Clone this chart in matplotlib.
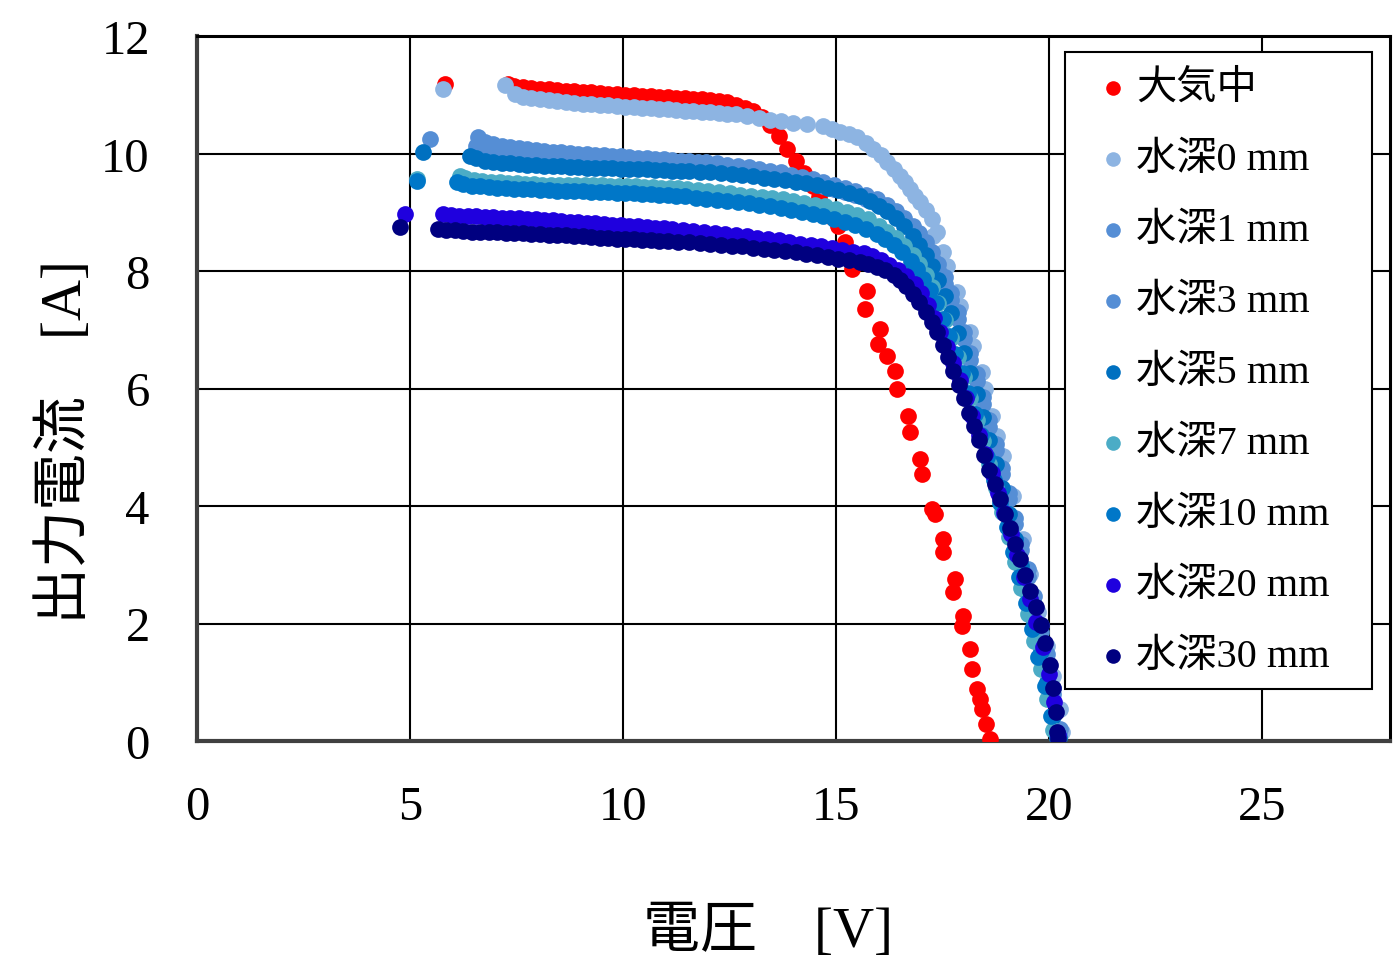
import matplotlib
matplotlib.use("Agg")
import matplotlib.pyplot as plt
from matplotlib.patches import Rectangle
from matplotlib.lines import Line2D

# ---------------- data (voltage [V], current [A]) ----------------
air = [(5.82, 11.18), (7.30, 11.18), (7.45, 11.15), (7.65, 11.13), (7.85, 11.12), (8.05, 11.10),
       (8.25, 11.09), (8.45, 11.08), (8.65, 11.07), (8.85, 11.06), (9.05, 11.05), (9.25, 11.04),
       (9.45, 11.03), (9.65, 11.02), (9.85, 11.01), (10.05, 11.00), (10.25, 10.99), (10.45, 10.98),
       (10.65, 10.98), (10.85, 10.97), (11.05, 10.96), (11.25, 10.95), (11.45, 10.94), (11.65, 10.93),
       (11.85, 10.92), (12.05, 10.91), (12.25, 10.90), (12.45, 10.87), (12.65, 10.83), (12.85, 10.78),
       (13.05, 10.72), (13.25, 10.62), (13.45, 10.48), (13.65, 10.30), (13.85, 10.08), (14.05, 9.87),
       (14.25, 9.66), (14.45, 9.45), (14.60, 9.26), (14.75, 9.08), (14.90, 8.92), (15.05, 8.76),
       (15.20, 8.50), (15.38, 8.03), (15.73, 7.66), (15.68, 7.35), (16.03, 7.01), (15.99, 6.76),
       (16.20, 6.55), (16.38, 6.30), (16.43, 5.99), (16.69, 5.53), (16.74, 5.26), (16.97, 4.80),
       (17.02, 4.54), (17.25, 3.95), (17.32, 3.86), (17.51, 3.44), (17.51, 3.22), (17.79, 2.76),
       (17.75, 2.54), (17.98, 2.13), (17.96, 1.96), (18.15, 1.57), (18.19, 1.23), (18.31, 0.89),
       (18.38, 0.71), (18.43, 0.54), (18.52, 0.29), (18.61, 0.03)]

depth0 = [(5.77, 11.10), (7.23, 11.17), (7.46, 11.01), (7.65, 10.97), (7.85, 10.95), (8.05, 10.93),
          (8.25, 10.91), (8.45, 10.90), (8.65, 10.88), (8.85, 10.86), (9.05, 10.85), (9.25, 10.84),
          (9.45, 10.83), (9.65, 10.82), (9.85, 10.81), (10.05, 10.80), (10.25, 10.79), (10.45, 10.78),
          (10.65, 10.77), (10.85, 10.76), (11.05, 10.75), (11.25, 10.74), (11.45, 10.73), (11.65, 10.72),
          (11.85, 10.71), (12.05, 10.70), (12.25, 10.69), (12.45, 10.68), (12.65, 10.67), (12.90, 10.64),
          (13.20, 10.60), (13.45, 10.57), (13.70, 10.55), (14.00, 10.52), (14.32, 10.50), (14.69, 10.47),
          (14.90, 10.42), (15.09, 10.37), (15.30, 10.33), (15.49, 10.28), (15.70, 10.18), (15.87, 10.08),
          (16.05, 9.97), (16.20, 9.86), (16.35, 9.74), (16.50, 9.62), (16.62, 9.51), (16.74, 9.40),
          (16.86, 9.28), (16.97, 9.17), (17.10, 9.03), (17.25, 8.89), (17.37, 8.66), (17.28, 8.60),
          (17.51, 8.32), (17.61, 8.09), (17.84, 7.64), (17.91, 7.40), (18.15, 6.96), (18.22, 6.72),
          (18.43, 6.28), (18.50, 5.99), (18.66, 5.53), (18.78, 5.19), (18.92, 4.85), (19.15, 4.17),
          (19.39, 3.44), (19.55, 2.84), (19.74, 2.20), (19.95, 1.62), (20.09, 1.11), (20.26, 0.54),
          (20.31, 0.15)]

depth1 = [(5.47, 10.25), (6.60, 10.28), (6.75, 10.20), (6.95, 10.16), (7.15, 10.13), (7.35, 10.11),
          (7.55, 10.09), (7.75, 10.07), (7.95, 10.06), (8.15, 10.04), (8.35, 10.03), (8.55, 10.02),
          (8.75, 10.01), (8.95, 10.00), (9.15, 9.99), (9.35, 9.98), (9.55, 9.97), (9.75, 9.96),
          (9.95, 9.95), (10.15, 9.94), (10.35, 9.93), (10.55, 9.92), (10.75, 9.91), (10.95, 9.90),
          (11.15, 9.89), (11.35, 9.88), (11.55, 9.87), (11.75, 9.86), (11.95, 9.85), (12.20, 9.83),
          (12.45, 9.81), (12.70, 9.79), (12.95, 9.77), (13.20, 9.74), (13.45, 9.71), (13.70, 9.68),
          (13.95, 9.64), (14.20, 9.60), (14.45, 9.56), (14.70, 9.52), (14.95, 9.47), (15.20, 9.42),
          (15.45, 9.36), (15.70, 9.30), (15.95, 9.22), (16.20, 9.12), (16.40, 9.02), (16.60, 8.90),
          (16.80, 8.77), (16.95, 8.65), (17.10, 8.50), (17.25, 8.33), (17.40, 8.12), (17.55, 7.90),
          (17.70, 7.62), (17.85, 7.30), (18.00, 6.96), (18.15, 6.60), (18.30, 6.24), (18.45, 5.86),
          (18.60, 5.46), (18.75, 5.06), (18.90, 4.64), (19.05, 4.22), (19.20, 3.80), (19.35, 3.36),
          (19.50, 2.92), (19.65, 2.46), (19.80, 1.98), (19.95, 1.48), (20.10, 0.90), (20.25, 0.20)]

depth3 = [(6.55, 10.12), (6.75, 10.08), (6.95, 10.05), (7.15, 10.03), (7.35, 10.01), (7.55, 9.99),
          (7.75, 9.98), (7.95, 9.97), (8.15, 9.96), (8.35, 9.95), (8.55, 9.94), (8.75, 9.93),
          (8.95, 9.92), (9.15, 9.91), (9.35, 9.90), (9.55, 9.89), (9.75, 9.88), (9.95, 9.87),
          (10.15, 9.86), (10.35, 9.85), (10.55, 9.84), (10.75, 9.83), (10.95, 9.82), (11.15, 9.81),
          (11.35, 9.80), (11.55, 9.79), (11.75, 9.78), (11.95, 9.77), (12.20, 9.75), (12.45, 9.73),
          (12.70, 9.71), (12.95, 9.69), (13.20, 9.66), (13.45, 9.63), (13.70, 9.60), (13.95, 9.57),
          (14.20, 9.53), (14.45, 9.49), (14.70, 9.45), (14.95, 9.40), (15.20, 9.35), (15.45, 9.29),
          (15.70, 9.22), (15.95, 9.14), (16.20, 9.04), (16.40, 8.94), (16.60, 8.82), (16.80, 8.68),
          (16.95, 8.55), (17.10, 8.40), (17.25, 8.22), (17.40, 8.02), (17.55, 7.78), (17.70, 7.50),
          (17.85, 7.18), (18.00, 6.84), (18.15, 6.48), (18.30, 6.12), (18.45, 5.74), (18.60, 5.35),
          (18.75, 4.95), (18.90, 4.54), (19.05, 4.12), (19.20, 3.69), (19.35, 3.25), (19.50, 2.80),
          (19.65, 2.34), (19.80, 1.86), (19.95, 1.36), (20.10, 0.80), (20.24, 0.12)]

depth5 = [(5.30, 10.02), (6.41, 9.96), (6.55, 9.92), (6.75, 9.88), (6.95, 9.86), (7.15, 9.84),
          (7.35, 9.83), (7.55, 9.82), (7.75, 9.81), (7.95, 9.80), (8.15, 9.79), (8.35, 9.78),
          (8.55, 9.78), (8.75, 9.77), (8.95, 9.77), (9.15, 9.76), (9.35, 9.76), (9.55, 9.75),
          (9.75, 9.75), (9.95, 9.74), (10.15, 9.74), (10.35, 9.73), (10.55, 9.73), (10.75, 9.72),
          (10.95, 9.72), (11.15, 9.71), (11.35, 9.71), (11.55, 9.70), (11.80, 9.69), (12.05, 9.68),
          (12.30, 9.66), (12.55, 9.65), (12.80, 9.63), (13.05, 9.61), (13.30, 9.59), (13.55, 9.57),
          (13.80, 9.55), (14.05, 9.52), (14.30, 9.49), (14.55, 9.46), (14.80, 9.42), (15.05, 9.38),
          (15.30, 9.33), (15.55, 9.27), (15.80, 9.19), (16.00, 9.11), (16.20, 9.02), (16.40, 8.91),
          (16.60, 8.77), (16.80, 8.60), (16.95, 8.45), (17.10, 8.28), (17.25, 8.08), (17.40, 7.85),
          (17.55, 7.58), (17.70, 7.28), (17.85, 6.95), (18.00, 6.61), (18.15, 6.26), (18.30, 5.90),
          (18.45, 5.52), (18.60, 5.13), (18.75, 4.72), (18.90, 4.30), (19.05, 3.87), (19.20, 3.43),
          (19.35, 2.98), (19.50, 2.51), (19.65, 2.03), (19.80, 1.53), (19.95, 1.00), (20.10, 0.42),
          (20.22, 0.05)]

depth7 = [(5.16, 9.57), (6.17, 9.62), (6.30, 9.58), (6.50, 9.55), (6.70, 9.53), (6.90, 9.52),
          (7.10, 9.51), (7.30, 9.50), (7.50, 9.49), (7.70, 9.48), (7.90, 9.48), (8.10, 9.47),
          (8.30, 9.47), (8.50, 9.46), (8.70, 9.46), (8.90, 9.46), (9.10, 9.46), (9.30, 9.46),
          (9.50, 9.46), (9.70, 9.45), (9.90, 9.45), (10.10, 9.44), (10.30, 9.44), (10.50, 9.43),
          (10.70, 9.43), (10.90, 9.42), (11.10, 9.42), (11.30, 9.41), (11.50, 9.40), (11.75, 9.38),
          (12.00, 9.36), (12.25, 9.34), (12.50, 9.32), (12.75, 9.30), (13.00, 9.28), (13.25, 9.26),
          (13.50, 9.24), (13.75, 9.22), (14.00, 9.19), (14.25, 9.16), (14.50, 9.13), (14.75, 9.10),
          (15.00, 9.06), (15.25, 9.01), (15.50, 8.95), (15.75, 8.88), (16.00, 8.77), (16.20, 8.67),
          (16.40, 8.56), (16.60, 8.42), (16.80, 8.27), (16.95, 8.12), (17.10, 7.94), (17.25, 7.72),
          (17.40, 7.46), (17.55, 7.17), (17.70, 6.86), (17.85, 6.53), (18.00, 6.19), (18.15, 5.84),
          (18.30, 5.47), (18.45, 5.10), (18.60, 4.71), (18.75, 4.31), (18.90, 3.90), (19.05, 3.48),
          (19.20, 3.05), (19.35, 2.61), (19.50, 2.16), (19.65, 1.70), (19.80, 1.22), (19.95, 0.72),
          (20.10, 0.18), (20.20, 0.04)]

depth10 = [(5.16, 9.53), (6.10, 9.51), (6.25, 9.48), (6.45, 9.45), (6.65, 9.44), (6.85, 9.43),
           (7.05, 9.42), (7.25, 9.41), (7.45, 9.40), (7.65, 9.39), (7.85, 9.39), (8.05, 9.38),
           (8.25, 9.38), (8.45, 9.37), (8.65, 9.37), (8.85, 9.36), (9.05, 9.36), (9.25, 9.35),
           (9.45, 9.35), (9.65, 9.34), (9.85, 9.33), (10.05, 9.33), (10.25, 9.32), (10.45, 9.31),
           (10.65, 9.31), (10.85, 9.30), (11.05, 9.29), (11.25, 9.28), (11.45, 9.27), (11.70, 9.25),
           (11.95, 9.23), (12.20, 9.21), (12.45, 9.19), (12.70, 9.17), (12.95, 9.15), (13.20, 9.12),
           (13.45, 9.10), (13.70, 9.07), (13.95, 9.04), (14.20, 9.01), (14.45, 8.97), (14.70, 8.93),
           (14.95, 8.89), (15.20, 8.84), (15.45, 8.79), (15.70, 8.72), (15.95, 8.63), (16.15, 8.55),
           (16.35, 8.45), (16.55, 8.32), (16.75, 8.17), (16.90, 8.03), (17.05, 7.87), (17.20, 7.68),
           (17.35, 7.45), (17.50, 7.19), (17.65, 6.90), (17.80, 6.59), (17.95, 6.26), (18.10, 5.92),
           (18.25, 5.57), (18.40, 5.21), (18.55, 4.84), (18.70, 4.45), (18.85, 4.05), (19.00, 3.64),
           (19.15, 3.22), (19.30, 2.79), (19.45, 2.35), (19.60, 1.90), (19.75, 1.43), (19.90, 0.94),
           (20.05, 0.42), (20.18, 0.05)]

depth20 = [(4.88, 8.97), (5.77, 8.97), (5.95, 8.95), (6.15, 8.94), (6.35, 8.93), (6.55, 8.93),
           (6.75, 8.92), (6.95, 8.92), (7.15, 8.91), (7.35, 8.90), (7.55, 8.90), (7.75, 8.89),
           (7.95, 8.88), (8.15, 8.87), (8.35, 8.86), (8.55, 8.85), (8.75, 8.84), (8.95, 8.83),
           (9.15, 8.82), (9.35, 8.81), (9.55, 8.80), (9.75, 8.79), (9.95, 8.78), (10.15, 8.77),
           (10.35, 8.76), (10.55, 8.75), (10.75, 8.74), (10.95, 8.73), (11.15, 8.72), (11.40, 8.70),
           (11.65, 8.68), (11.90, 8.67), (12.15, 8.65), (12.40, 8.63), (12.65, 8.61), (12.90, 8.59),
           (13.15, 8.57), (13.40, 8.55), (13.65, 8.52), (13.90, 8.49), (14.15, 8.46), (14.40, 8.44),
           (14.65, 8.42), (14.90, 8.39), (15.15, 8.36), (15.40, 8.33), (15.65, 8.30), (15.85, 8.25),
           (16.05, 8.18), (16.25, 8.10), (16.45, 8.02), (16.65, 7.92), (16.85, 7.78), (17.00, 7.62),
           (17.15, 7.42), (17.30, 7.20), (17.45, 6.96), (17.60, 6.70), (17.75, 6.43), (17.90, 6.14),
           (18.05, 5.84), (18.20, 5.53), (18.35, 5.21), (18.50, 4.89), (18.65, 4.56), (18.80, 4.22),
           (18.95, 3.88), (19.10, 3.53), (19.25, 3.17), (19.40, 2.80), (19.55, 2.42), (19.70, 2.02),
           (19.85, 1.60), (20.00, 1.14), (20.12, 0.66), (20.20, 0.10)]

depth30 = [(4.77, 8.75), (5.66, 8.72), (5.85, 8.70), (6.05, 8.69), (6.25, 8.68), (6.45, 8.67),
           (6.65, 8.67), (6.85, 8.66), (7.05, 8.66), (7.25, 8.65), (7.45, 8.65), (7.65, 8.64),
           (7.85, 8.63), (8.05, 8.63), (8.25, 8.62), (8.45, 8.61), (8.65, 8.61), (8.85, 8.60),
           (9.05, 8.59), (9.25, 8.58), (9.45, 8.57), (9.65, 8.56), (9.85, 8.55), (10.05, 8.54),
           (10.25, 8.54), (10.45, 8.53), (10.65, 8.52), (10.85, 8.51), (11.05, 8.51), (11.30, 8.50),
           (11.55, 8.49), (11.80, 8.48), (12.05, 8.46), (12.30, 8.45), (12.55, 8.43), (12.80, 8.42),
           (13.05, 8.40), (13.30, 8.38), (13.55, 8.36), (13.80, 8.34), (14.05, 8.32), (14.30, 8.29),
           (14.55, 8.27), (14.80, 8.24), (15.05, 8.21), (15.30, 8.18), (15.55, 8.15), (15.75, 8.12),
           (15.95, 8.07), (16.15, 8.01), (16.35, 7.93), (16.50, 7.85), (16.65, 7.74), (16.80, 7.61),
           (16.95, 7.47), (17.10, 7.31), (17.25, 7.13), (17.37, 6.96), (17.50, 6.74), (17.62, 6.53),
           (17.75, 6.30), (17.88, 6.06), (18.00, 5.83), (18.12, 5.59), (18.24, 5.36), (18.36, 5.12),
           (18.48, 4.87), (18.60, 4.62), (18.72, 4.37), (18.84, 4.12), (18.96, 3.87), (19.08, 3.62),
           (19.20, 3.36), (19.32, 3.10), (19.44, 2.83), (19.56, 2.56), (19.68, 2.28), (19.80, 1.98),
           (19.91, 1.66), (20.02, 1.30), (20.10, 0.90), (20.16, 0.50), (20.19, 0.15), (20.20, 0.03)]

series = [air, depth0, depth1, depth3, depth5, depth7, depth10, depth20, depth30]
labels = ["大気中", "水深0 mm", "水深1 mm", "水深3 mm", "水深5 mm", "水深7 mm",
          "水深10 mm", "水深20 mm", "水深30 mm"]
colors = ["#FF0000", "#8DB4E2", "#558ED5", "#558ED5", "#0070C0", "#4BACC6",
          "#0077C8", "#1F00DE", "#000080"]

x_ticks = [0, 5, 10, 15, 20, 25]
y_ticks = [0, 2, 4, 6, 8, 10, 12]
x_label = "電圧　[V]"
y_label = "出力電流　[A]"

# ---------------- figure ----------------
W, H = 1400, 970
fig = plt.figure(figsize=(W / 100, H / 100), dpi=100)
ax = fig.add_axes([197 / W, 1 - 742 / H, (1390 - 197) / W, (742 - 37) / H])

serif = ["Liberation Serif", "Noto Sans CJK JP"]

for k, (pts, col) in enumerate(zip(series, colors)):
    v = [p[0] for p in pts]
    c = [p[1] for p in pts]
    ax.scatter(v, c, s=145, color=col, linewidths=0, zorder=3 + k)

ax.set_xlim(0, 28)
ax.set_ylim(0, 12)
ax.set_xticks(x_ticks)
ax.set_yticks(y_ticks)
ax.grid(True, color="black", linewidth=1.5)
ax.set_axisbelow(True)
ax.tick_params(length=0, labelsize=35)
ax.tick_params(axis="y", pad=34)
ax.tick_params(axis="x", pad=32)
for lab in ax.get_xticklabels() + ax.get_yticklabels():
    lab.set_family(serif)

for side in ("left", "bottom"):
    ax.spines[side].set_color("#404040")
    ax.spines[side].set_linewidth(3.0)
for side in ("top", "right"):
    ax.spines[side].set_color("black")
    ax.spines[side].set_linewidth(2.2)

fig.text(65 / W, 1 - 442 / H, y_label, rotation=90, ha="center", va="center",
         fontsize=41, family=serif)
fig.text(768 / W, 1 - 932 / H, x_label, ha="center", va="center",
         fontsize=41, family=serif)

# ---------------- legend ----------------
lx0, ly0, lx1, ly1 = 1065, 53, 1372, 690
fig.add_artist(Rectangle((lx0 / W, 1 - ly1 / H), (lx1 - lx0) / W, (ly1 - ly0) / H,
                         transform=fig.transFigure, facecolor="white",
                         edgecolor="black", linewidth=1.5, zorder=10))
row0, drow = 89, 71
for k, (lab, col) in enumerate(zip(labels, colors)):
    yy = 1 - (row0 + k * drow) / H
    fig.add_artist(Line2D([1113 / W], [yy], marker="o", markersize=10.5, color=col,
                          markeredgewidth=0, linestyle="none",
                          transform=fig.transFigure, zorder=11))
    fig.text(1136 / W, yy, lab, ha="left", va="center", fontsize=29,
             family=serif, zorder=11)

fig.savefig("out.png", dpi=100, facecolor="white")
